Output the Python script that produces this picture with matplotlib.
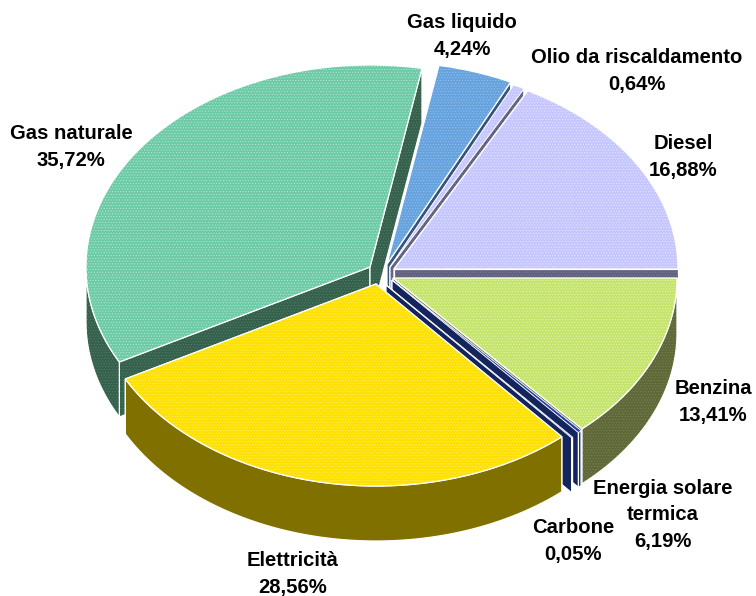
import numpy as np
import matplotlib
matplotlib.use("Agg")
import matplotlib.pyplot as plt
from matplotlib.patches import Polygon

categories = ["Benzina", "Energia solare\ntermica", "Carbone", "Elettricità",
              "Gas naturale", "Gas liquido", "Olio da riscaldamento", "Diesel"]
values = [13.41, 0.19, 0.05, 28.56, 35.72, 4.24, 0.64, 16.88]
value_labels = ["13,41%", "6,19%", "0,05%", "28,56%", "35,72%", "4,24%", "0,64%", "16,88%"]

top_colors = ["#C4E46C", "#1E3CA0", "#14245C", "#FFE100", "#6CCBA6", "#66A3DE", "#C6C6FF", "#C6C6FF"]
dot_colors = ["#E8F4B8", "#3050B0", "#14245C", "#FFEC70", "#BCE8D6", "#98C2EC", "#E8E8FF", "#E8E8FF"]
side_colors = ["#5E6838", "#14245C", "#14245C", "#807000", "#34604C", "#33527A", "#60607F", "#60607F"]
side_dots = ["#7C8650", "#14245C", "#14245C", "#807000", "#56806C", "#4C6C94", "#82829A", "#82829A"]

# layout: wedge apex in the figure's pixel frame, per category
apex = [(393, 278), (392, 280), (386, 285), (376, 284), (370, 267), (387, 264), (390, 267), (394, 269)]
label_pos = [(713, 402), (663, 515), (573, 541), (293, 574), (71, 147), (462, 36), (637, 71), (683, 157)]
draw_order = [4, 5, 6, 7, 0, 1, 2, 3]
RX, RY, DEPTH = 284.0, 202.0, 55.0
LINE_STEP = 26.5

plt.rcParams["font.family"] = ["Liberation Sans", "DejaVu Sans"]
plt.rcParams["hatch.linewidth"] = 0.4

fig = plt.figure(figsize=(7.56, 5.96), dpi=100)
ax = fig.add_axes([0, 0, 1, 1])
ax.set_xlim(0, 756)
ax.set_ylim(596, 0)
ax.axis("off")

# percent shares of a full turn; the last wedge closes the circle
sweep = np.array(values) / 100 * 2 * np.pi
ends = np.cumsum(sweep)
ends[-1] = 2 * np.pi
starts = np.r_[0, ends[:-1]]


def rim(cx, cy, a0, a1):
    t = np.linspace(a0, a1, max(int(abs(a1 - a0) * 80), 2))
    return np.column_stack([cx + RX * np.cos(t), cy + RY * np.sin(t)])


def shape(pts, face, dots=None, z=1, lw=0.9):
    ax.add_patch(Polygon(pts, closed=True, facecolor=face, edgecolor=dots or face,
                         hatch="......" if dots else None, lw=0, zorder=z))
    ax.add_patch(Polygon(pts, closed=True, facecolor="none", edgecolor="white", lw=lw, zorder=z))


down = np.array([0, DEPTH])
for z, i in enumerate(draw_order):
    cx, cy = apex[i]
    c = np.array([[cx, cy]])
    r = rim(cx, cy, starts[i], ends[i])
    side, dots = side_colors[i], side_dots[i]
    for edge in (r[0], r[-1]):
        quad = np.array([[cx, cy], edge, edge + down, [cx, cy + DEPTH]])
        shape(quad, side, dots, z=z + 2)
    lo, hi = max(starts[i], 0), min(ends[i], np.pi)
    if lo < hi:
        w = rim(cx, cy, lo, hi)
        shape(np.vstack([w, (w + down)[::-1]]), side, dots, z=z + 2)
    shape(np.vstack([c, r]), top_colors[i], dot_colors[i], z=z + 2, lw=0.4 if values[i] < 1 else 0.9)

# each line of a label is its own text, so close neighbours keep separate boxes
for name, val, pos in zip(categories, value_labels, label_pos):
    lines = f"{name}\n{val}".split("\n")
    first = pos[1] - LINE_STEP * (len(lines) - 1) / 2
    for k, line in enumerate(lines):
        ax.text(pos[0], first + k * LINE_STEP, line, ha="center", va="center",
                fontsize=14.6, fontweight="bold", color="black", zorder=30)

fig.savefig("out.png", dpi=100, facecolor="white")
